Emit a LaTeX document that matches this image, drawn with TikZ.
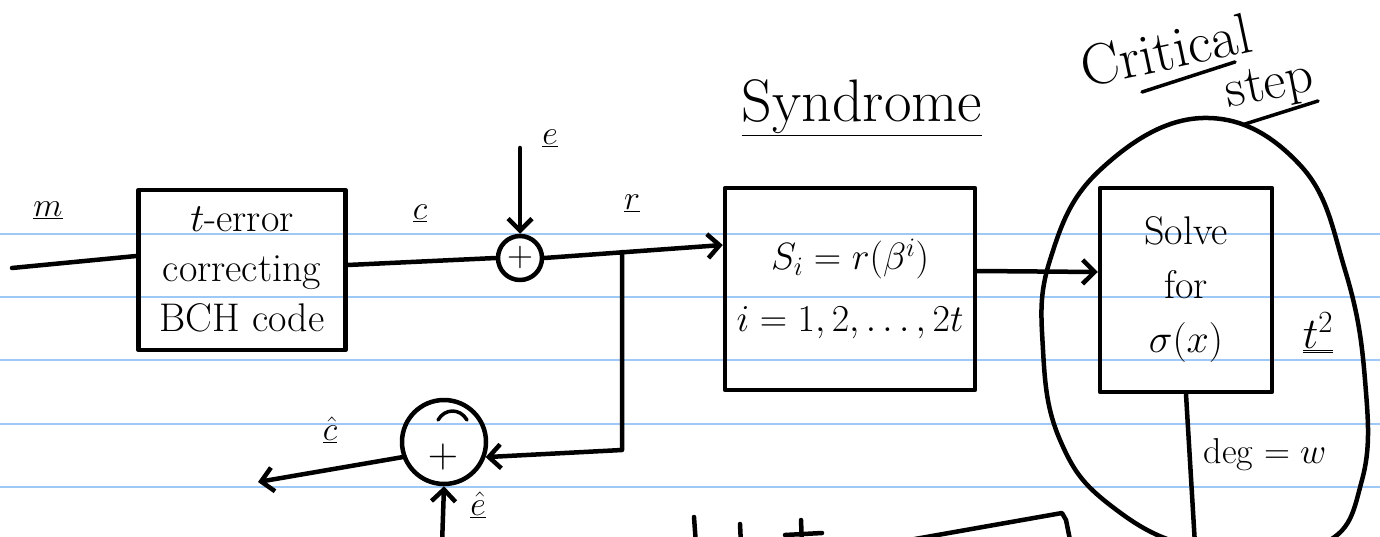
\RequirePackage{fix-cm}
\documentclass[tikz,border=0pt]{standalone}
\usetikzlibrary{arrows.meta,calc}
\definecolor{rulecol}{RGB}{158,200,245}
\tikzset{
 ink/.style={line width=4.5pt, line cap=round, line join=round},
 arr/.style={ink, -{Straight Barb[length=12pt,width=24pt]}},
 blk/.style={draw, ink, rectangle, inner sep=0pt, align=center, font=\fontsize{40}{50}\selectfont},
 sumnode/.style={draw, ink, circle, inner sep=0pt, font=\fontsize{36}{36}\selectfont},
 lbl/.style={inner sep=0pt, font=\fontsize{34}{38}\selectfont},
 ruled/.style={draw=rulecol, line width=1.6pt}
}
\begin{document}
\begin{tikzpicture}[x=1pt,y=-1pt]
\useasboundingbox (0,0) rectangle (1380,537);
\fill[white] (0,0) rectangle (1380,537);
\foreach \yy in {234,297,360,424,487} \draw[ruled] (0,\yy) -- (1380,\yy);

% blocks
\node[blk, minimum width=207, minimum height=160] (enc) at (242,270) {$t$-error\\correcting\\BCH code};
\node[sumnode, minimum size=44] (add1) at (520,258) {$+$};
\node[sumnode, minimum size=84] (add2) at (444,442) {};
\node[lbl, font=\fontsize{42}{42}\selectfont] (plus2) at (443,457) {$+$};
\node[blk, minimum width=250, minimum height=202, font=\fontsize{38}{46}\selectfont] (syn) at (850,289) {$S_i=r(\beta^i)$\\[16pt]$i=1,2,\ldots,2t$};
\node[blk, minimum width=172, minimum height=204, font=\fontsize{40}{54}\selectfont] (solve) at (1186,290) {Solve\\for\\$\sigma(x)$};

% free ends
\coordinate (in) at (12,268);
\coordinate (etop) at (520,148);
\coordinate (br) at (622,252);
\coordinate (corner) at (622,450);
\coordinate (out) at (258,482);
\coordinate (ein) at (442,545);
\coordinate (degend) at (1195,545);

% connectors
\draw[ink] (in) -- ($(enc.west)+(0,-14)$);
\draw[ink] ($(enc.east)+(0,-5)$) -- (add1.west);
\draw[arr] (etop) -- (add1.north);
\draw[arr] (add1.east) -- ($(syn.west)+(0,-44)$);
\draw[arr] (br) -- (corner) -- (add2.-20);
\draw[arr] (add2.200) -- (out);
\draw[arr] (ein) -- (add2.south);
\draw[arr] ($(syn.east)+(0,-18)$) -- ($(solve.west)+(0,-18)$);
\draw[ink] (solve.south) -- (degend);

% scribble inside lower adder
\draw[ink, line width=3.5pt] (438,420) .. controls (445,408) and (460,408) .. (467,420);

% labels
\node[lbl] (lm) at (48,210) {$\underline{m}$};
\node[lbl] (lc) at (420,213) {$\underline{c}$};
\node[lbl] (le) at (550,138) {$\underline{e}$};
\node[lbl] (lr) at (632,203) {$\underline{r}$};
\node[lbl] (lch) at (330,430) {$\underline{\hat{c}}$};
\node[lbl] (leh) at (478,505) {$\underline{\hat{e}}$};
\node[lbl, font=\fontsize{60}{64}\selectfont] (ttl) at (862,108) {\underline{Syndrome}};
\node[lbl, font=\fontsize{58}{60}\selectfont, rotate=12] (crit) at (1166,50) {Critical};
\node[lbl, font=\fontsize{54}{56}\selectfont, rotate=11] (stp) at (1270,88) {step};
\node[lbl, font=\fontsize{44}{46}\selectfont] (t2) at (1318,333) {$\underline{\underline{t^2}}$};
\node[lbl, font=\fontsize{36}{40}\selectfont] (deg) at (1265,455) {deg $=w$};

% underlines of the slanted title
\draw[ink, line width=3.5pt] (1142,92) -- (1235,62);
\draw[ink, line width=3.5pt] (1245,124) -- (1318,101);

% critical-step oval
\draw[ink] plot[smooth cycle, tension=0.7] coordinates {(1203,118) (1300,165) (1345,270) (1365,380) (1362,480) (1320,545) (1200,548) (1110,505) (1060,440) (1043,350) (1050,260) (1100,170)};

% cut-off marks at the bottom edge
\draw[ink] (694,517) -- (696,545);
\draw[ink] (740,524) -- (741,545);
\draw[ink] (801,520) -- (802,545);
\draw[ink] (785,535) -- (822,533);
\draw[ink] (881,545) -- (1062,513) -- (1066,520) -- (1071,545);
\end{tikzpicture}
\end{document}
